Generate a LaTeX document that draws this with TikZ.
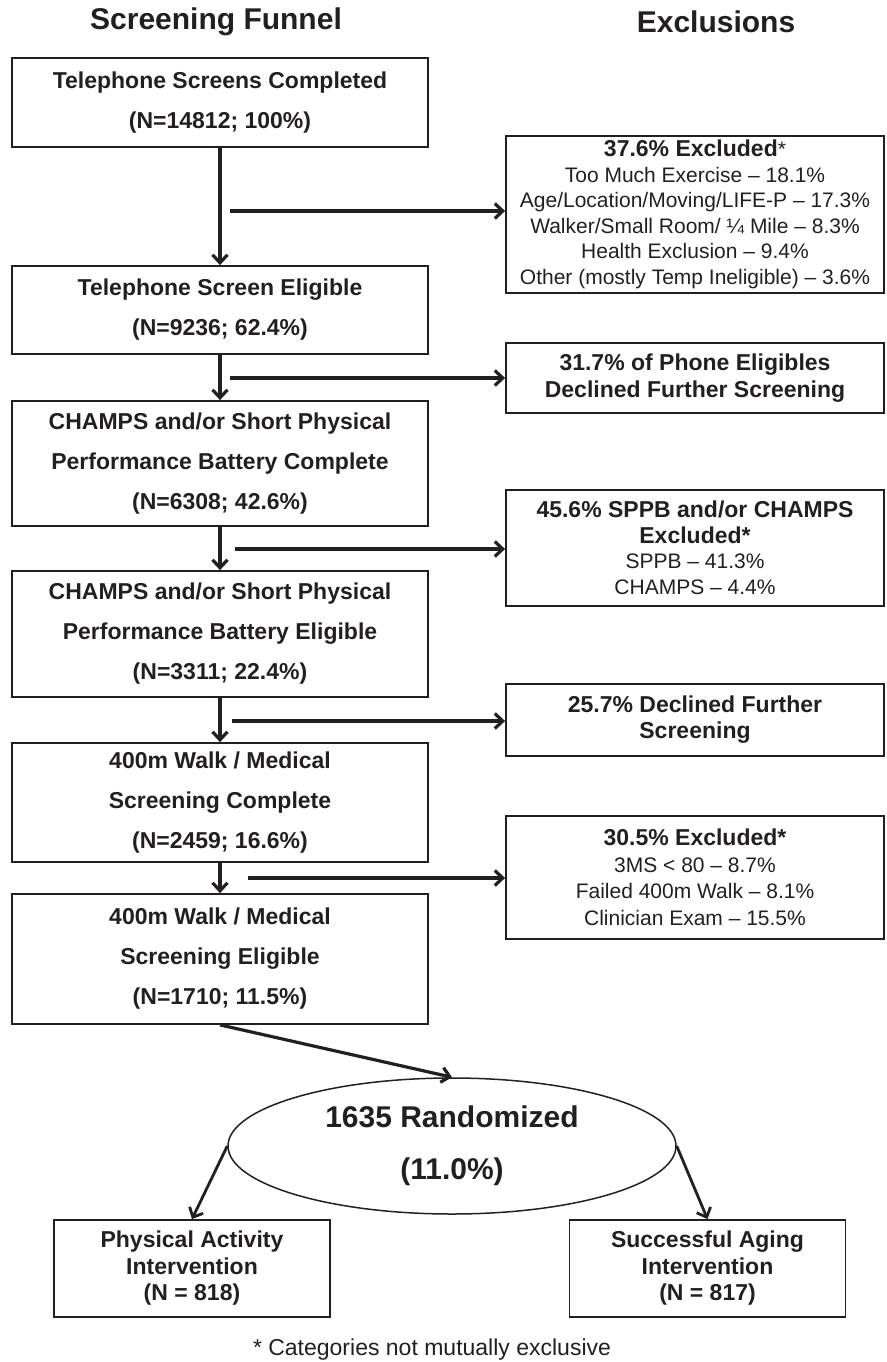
\documentclass[tikz,border=0pt]{standalone}
\usepackage{fontspec}
\setmainfont{Liberation Sans}
\usetikzlibrary{arrows.meta,shapes.geometric}
\definecolor{ink}{RGB}{35,31,32}
\newcommand{\exhead}[1]{{\bfseries\fontsize{23}{25}\selectfont #1}}

\begin{document}
\begin{tikzpicture}[x=1pt, y=-1pt, color=ink, text=ink,
  funnel/.style={draw, line width=1.8pt, minimum width=416pt, inner sep=0pt, align=center, font=\bfseries\fontsize{23}{40}\selectfont},
  excl/.style={draw, line width=1.8pt, minimum width=378pt, inner sep=0pt, align=center, font=\fontsize{21}{25.5}\selectfont},
  arm/.style={draw, line width=1.8pt, minimum width=276pt, minimum height=97pt, inner sep=0pt, align=center, font=\bfseries\fontsize{23}{26.5}\selectfont},
  flow/.style={line width=3.2pt, -{Straight Barb[length=8pt,width=15pt]}}]
  \useasboundingbox (0,0) rectangle (886,1362);
  % column heads
  \node[font=\bfseries\fontsize{30}{30}\selectfont] (hfun) at (216,22) {Screening Funnel};
  \node[font=\bfseries\fontsize{30}{30}\selectfont] (hexc) at (716,22) {Exclusions};
  % Left: screening funnel
  \node[funnel,minimum height=89pt] (tel) at (220,102.5) {Telephone Screens Completed\\(N=14812; 100\%)};
  \node[funnel,minimum height=88pt] (telok) at (220,310) {Telephone Screen Eligible\\(N=9236; 62.4\%)};
  \node[funnel,minimum height=125pt] (sppb) at (220,463.5) {CHAMPS and/or Short Physical\\Performance Battery Complete\\(N=6308; 42.6\%)};
  \node[funnel,minimum height=126pt] (sppbok) at (220,634) {CHAMPS and/or Short Physical\\Performance Battery Eligible\\(N=3311; 22.4\%)};
  \node[funnel,minimum height=119pt] (walk) at (220,802.5) {400m Walk / Medical\\Screening Complete\\(N=2459; 16.6\%)};
  \node[funnel,minimum height=130pt] (walkok) at (220,959) {400m Walk / Medical\\Screening Eligible\\(N=1710; 11.5\%)};
  \draw[flow] (tel) -- (telok);
  \draw[flow] (telok) -- (sppb);
  \draw[flow] (sppb) -- (sppbok);
  \draw[flow] (sppbok) -- (walk);
  \draw[flow] (walk) -- (walkok);
  % Right: exclusions
  \node[excl,minimum height=157pt] (ex1) at (695,214.5) {\exhead{37.6\% Excluded}*\\Too Much Exercise – 18.1\%\\Age/Location/Moving/LIFE-P – 17.3\%\\Walker/Small Room/ ¼ Mile – 8.3\%\\Health Exclusion – 9.4\%\\Other (mostly Temp Ineligible) – 3.6\%};
  \node[excl,minimum height=70pt,font=\bfseries\fontsize{23}{27}\selectfont] (ex2) at (695,378) {31.7\% of Phone Eligibles\\Declined Further Screening};
  \node[excl,minimum height=116pt] (ex3) at (695,548) {\exhead{45.6\% SPPB and/or CHAMPS}\\\exhead{Excluded*}\\SPPB – 41.3\%\\CHAMPS – 4.4\%};
  \node[excl,minimum height=72pt,font=\bfseries\fontsize{23}{26}\selectfont] (ex4) at (695,720) {25.7\% Declined Further\\Screening};
  \node[excl,minimum height=123pt,font=\fontsize{21}{26.5}\selectfont] (ex5) at (695,877.5) {\exhead{30.5\% Excluded*}\\3MS < 80 – 8.7\%\\Failed 400m Walk – 8.1\%\\Clinician Exam – 15.5\%};
  \coordinate (s1) at (230,211);
  \coordinate (s2) at (230,378);
  \coordinate (s3) at (235,549);
  \coordinate (s4) at (232,721);
  \coordinate (s5) at (248,878);
  \draw[flow] (s1) -- (s1 -| ex1.west);
  \draw[flow] (s2) -- (s2 -| ex2.west);
  \draw[flow] (s3) -- (s3 -| ex3.west);
  \draw[flow] (s4) -- (s4 -| ex4.west);
  \draw[flow] (s5) -- (s5 -| ex5.west);
  % randomization
  \node[ellipse,draw,line width=1.5pt,minimum width=448pt,minimum height=136pt,inner sep=0pt,align=center,font=\bfseries\fontsize{30}{52}\selectfont] (rand) at (452,1146) {1635 Randomized\\(11.0\%)};
  \node[arm] (pa) at (192,1268.5) {Physical Activity\\Intervention\\(N = 818)};
  \node[arm] (sa) at (707.5,1268.5) {Successful Aging\\Intervention\\(N = 817)};
  \draw[flow] (walkok.south) -- (rand.north);
  \draw[flow,line width=2.8pt] (rand.west) -- (pa.north);
  \draw[flow,line width=2.8pt] (rand.east) -- (sa.north);
  \node[font=\fontsize{23}{23}\selectfont] (note) at (432,1350) {* Categories not mutually exclusive};
\end{tikzpicture}
\end{document}
